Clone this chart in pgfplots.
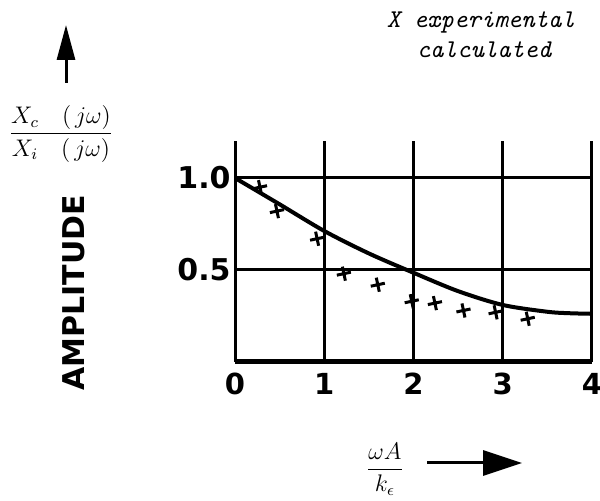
\documentclass[border=0pt]{standalone}
\usepackage{fontspec}
\usepackage{pgfplots}
\pgfplotsset{compat=1.18}
\usetikzlibrary{arrows.meta}
\newfontfamily\dvb{DejaVu Sans}
\begin{document}
\begin{tikzpicture}
\begin{axis}[
  at={(117.5pt,-181pt)}, anchor=south west,
  scale only axis, width=178.5pt, height=110.4pt,
  xmin=0, xmax=4, ymin=0, ymax=1.2,
  axis x line*=bottom, axis y line*=left,
  x axis line style={line width=2.5pt},
  y axis line style={line width=1.5pt},
  xtick={0,1,2,3,4}, xticklabels={0,1,2,3,4},
  ytick={0.5,1.0}, yticklabels={0.5,1.0},
  major tick length=0pt,
  grid=major,
  major grid style={line width=1.5pt, black},
  xticklabel style={font=\dvb\bfseries\fontsize{14.5}{16}\selectfont, yshift=-2pt},
  yticklabel style={font=\dvb\bfseries\fontsize{15}{17}\selectfont, inner sep=2pt},
  clip=false,
]
\addplot[line width=2pt, smooth, tension=0.5, no markers] coordinates {
  (0,1.0) (0.5,0.857) (1,0.712) (1.5,0.59) (2,0.485) (2.5,0.385)
  (3,0.31) (3.5,0.273) (3.75,0.265) (4,0.262)
};
\addplot[only marks, mark=+, mark size=3.6pt, mark options={line width=1.5pt, rotate=12}] coordinates {
  (0.28,0.95) (0.47,0.82) (0.92,0.67) (1.22,0.48) (1.60,0.42)
  (1.98,0.33) (2.24,0.32) (2.56,0.28) (2.92,0.27) (3.28,0.235)
};
\end{axis}
\begin{scope}[x=0.5pt,y=-0.5pt]
% up arrow and y quantity
\draw[line width=1.5pt, -{Triangle[length=17.5pt,width=9pt]}] (66,83) -- (66,25);
\node[font=\fontsize{11.5}{13}\selectfont, inner sep=0pt] at (61,134)
  {$\displaystyle\frac{X_{c}\quad(\,j\omega)}{X_{i}\quad(\,j\omega)}$};
\node[rotate=90, font=\dvb\bfseries\fontsize{15}{17}\selectfont, inner sep=0pt] at (74,293) {AMPLITUDE};
% legend text
\node[anchor=base, font=\ttfamily\itshape\fontsize{12.8}{15}\selectfont, inner sep=0pt] at (481,28) {X experimental};
\node[anchor=base, font=\ttfamily\itshape\fontsize{12.8}{15}\selectfont, inner sep=0pt] at (484,58) {calculated};
% x quantity and arrow
\node[font=\fontsize{11.5}{13}\selectfont, inner sep=0pt] at (385,469)
  {$\displaystyle\frac{\omega A}{k_{\epsilon}}$};
\draw[line width=1.5pt, -{Triangle[length=19.5pt,width=12.5pt]}] (427,463) -- (522,463);
\pgfresetboundingbox
\path[use as bounding box] (0,0) rectangle (600,501);
\end{scope}
\end{tikzpicture}
\end{document}
